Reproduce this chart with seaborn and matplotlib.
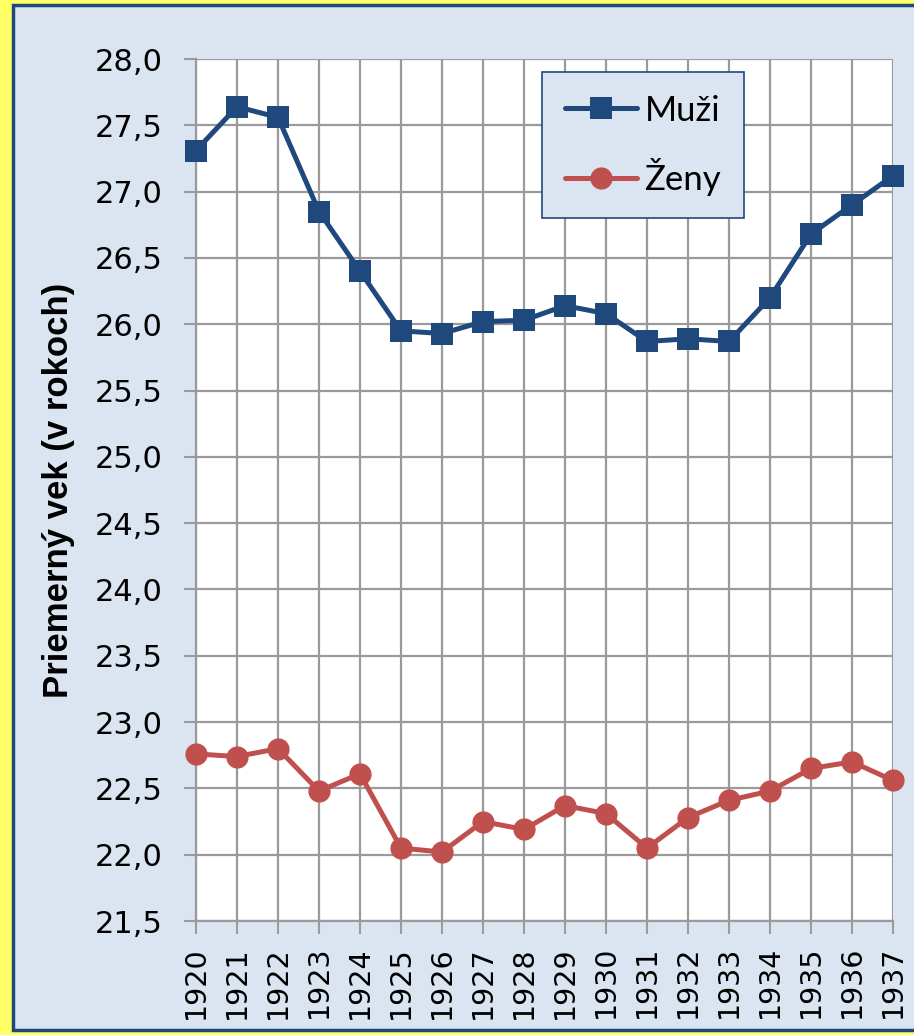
import numpy as np
import pandas as pd
import matplotlib
matplotlib.use('Agg')
import matplotlib.pyplot as plt
import seaborn as sns
from matplotlib.patches import Rectangle
from matplotlib.ticker import FuncFormatter

# Data
years = list(range(1920, 1938))
muzi = [27.31, 27.64, 27.56, 26.85, 26.40, 25.95, 25.93, 26.02, 26.03,
        26.14, 26.08, 25.87, 25.89, 25.87, 26.20, 26.68, 26.90, 27.12]
zeny = [22.76, 22.74, 22.80, 22.48, 22.61, 22.05, 22.02, 22.25, 22.19,
        22.37, 22.31, 22.05, 22.28, 22.41, 22.48, 22.65, 22.70, 22.56]
y_ticks = np.arange(21.5, 28.01, 0.5)

blue = '#1f497d'
red = '#c0504d'
grid_col = '#9a9a9a'
bg_col = '#dbe5f1'

sns.set_theme(style='white')
plt.rcParams['font.family'] = ['DejaVu Sans']
plt.rcParams['text.color'] = 'black'
plt.rcParams['xtick.labelcolor'] = 'black'
plt.rcParams['ytick.labelcolor'] = 'black'
plt.rcParams['axes.labelcolor'] = 'black'

fig = plt.figure(figsize=(9.14, 10.35), dpi=100, facecolor='#ffff66')
# chart frame
fig.patches.append(Rectangle((13 / 914, 5 / 1035), 1.1, 1025 / 1035,
                             transform=fig.transFigure, facecolor=bg_col,
                             edgecolor=blue, linewidth=2.5, zorder=-10))

ax = fig.add_axes([196 / 914, 1 - 921 / 1035, (893 - 196) / 914, (921 - 59) / 1035])
ax.set_facecolor('white')

df = pd.DataFrame({'rok': years, 'Muži': muzi, 'Ženy': zeny})
sns.lineplot(data=df, x='rok', y='Muži', ax=ax, color=blue, linewidth=3.6,
             marker='s', markersize=16, markeredgewidth=0, label='Muži',
             clip_on=False, zorder=5)
sns.lineplot(data=df, x='rok', y='Ženy', ax=ax, color=red, linewidth=3.6,
             marker='o', markersize=16, markeredgewidth=0, label='Ženy',
             clip_on=False, zorder=5)

ax.set_xlim(1920, 1937)
ax.set_ylim(21.5, 28.0)
ax.set_xticks(years)
ax.set_xticklabels([str(y) for y in years], rotation=90, fontsize=20.5)
ax.set_yticks(y_ticks)
ax.yaxis.set_major_formatter(FuncFormatter(lambda v, p: f'{v:.1f}'.replace('.', ',')))
ax.tick_params(axis='y', labelsize=22, length=9, color=grid_col, width=1.5, pad=15)
ax.tick_params(axis='x', length=9, color=grid_col, width=1.5, pad=9)
ax.tick_params(axis='both', left=True, bottom=True, direction='out')

ax.grid(True, color=grid_col, linewidth=1.6)
for side in ['top', 'right']:
    ax.spines[side].set_visible(False)
for side in ['left', 'bottom']:
    ax.spines[side].set_color(grid_col)
    ax.spines[side].set_linewidth(1.6)

ax.set_xlabel('')
ax.set_ylabel('Priemerný vek (v rokoch)', fontsize=25, fontweight='bold',
              family='Liberation Sans', labelpad=14)

leg = ax.legend(loc='upper left', bbox_to_anchor=((542 - 196) / 697, 1 - (72 - 59) / 862),
                frameon=True, fancybox=False, prop={'family': 'Lato', 'size': 25},
                labelspacing=0.9, handlelength=2.1, handletextpad=0.2,
                borderpad=0.65, borderaxespad=0)
leg.get_frame().set_facecolor(bg_col)
leg.get_frame().set_edgecolor(blue)
leg.get_frame().set_linewidth(1.2)
leg.get_frame().set_alpha(1)

fig.savefig('out.png', dpi=100, facecolor=fig.get_facecolor())
